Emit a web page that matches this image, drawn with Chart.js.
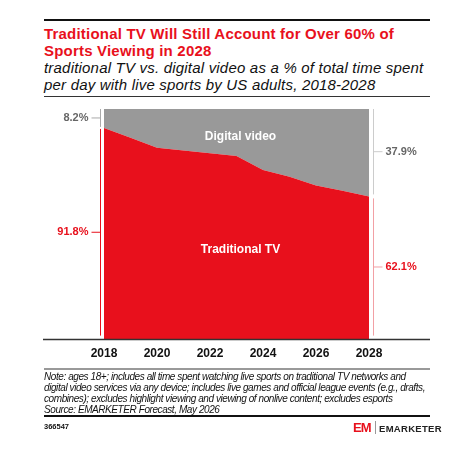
<!DOCTYPE html>
<html>
<head>
<meta charset="utf-8">
<script src="https://cdn.jsdelivr.net/npm/chart.js@4.4.1/dist/chart.umd.min.js"></script>
<style>
  body { margin: 0; width: 470px; height: 453px; background: #fff; position: relative; font-family: "Liberation Sans", Arial, sans-serif; overflow: hidden; }
  .abs { position: absolute; }
  #topRule { left: 44px; top: 19px; width: 386px; height: 2px; background: #111; }
  #title { left: 44px; top: 25px; width: 420px; color: #e8101c; font-weight: bold; font-size: 15px; line-height: 17px; letter-spacing: 0.2px; }
  #subtitle { left: 44px; top: 60px; width: 420px; color: #111; font-style: italic; font-size: 15px; line-height: 16.5px; letter-spacing: 0.2px; }
  #headRule { left: 44px; top: 96px; width: 386px; height: 1px; background: #333; }
  #chartBox { left: 0; top: 100px; width: 470px; height: 272px; }
  #noteRule { left: 44px; top: 368px; width: 386px; height: 2px; background: #999; }
  #notes { left: 44px; top: 372px; width: 420px; color: #111; font-style: italic; font-size: 10px; line-height: 10.9px; letter-spacing: -0.42px; }
  #footRule { left: 44px; top: 415px; width: 386px; height: 2px; background: #111; }
  #chartId { left: 44px; top: 422px; font-size: 7.5px; font-weight: bold; color: #111; }
  #logoEM { left: 353px; top: 420px; font-size: 13px; font-weight: 900; color: #e8101c; letter-spacing: -1px; }
  #logoBar { left: 375px; top: 421px; width: 1px; height: 13px; background: #999; }
  #logoText { left: 379px; top: 423px; font-size: 9.5px; font-weight: bold; color: #222; letter-spacing: 0.3px; }
</style>
</head>
<body>
<div id="topRule" class="abs"></div>
<div id="title" class="abs">Traditional TV Will Still Account for Over 60% of<br>Sports Viewing in 2028</div>
<div id="subtitle" class="abs">traditional TV vs. digital video as a % of total time spent<br>per day with live sports by US adults, 2018-2028</div>
<div id="headRule" class="abs"></div>
<div id="chartBox" class="abs"><canvas id="myChart" width="470" height="272"></canvas></div>
<div id="noteRule" class="abs"></div>
<div id="notes" class="abs">Note: ages 18+; includes all time spent watching live sports on traditional TV networks and<br>digital video services via any device; includes live games and official league events (e.g., drafts,<br>combines); excludes highlight viewing and viewing of nonlive content; excludes esports<br>Source: EMARKETER Forecast, May 2026</div>
<div id="footRule" class="abs"></div>
<div id="chartId" class="abs">366547</div>
<div id="logoEM" class="abs">EM</div>
<div id="logoBar" class="abs"></div>
<div id="logoText" class="abs">EMARKETER</div>

<script>
const years = ["2018", "2019", "2020", "2021", "2022", "2023", "2024", "2025", "2026", "2027", "2028"];
const traditionalTV = [91.8, 87.5, 83.2, 82.0, 80.8, 79.6, 73.6, 70.6, 66.8, 64.6, 62.1];
const digitalVideo = [8.2, 12.5, 16.8, 18.0, 19.2, 20.4, 26.4, 29.4, 33.2, 35.4, 37.9];
const seriesNames = ["Traditional TV", "Digital video"];

const RED = "#e8101c";
const GREY = "#999999";

// brackets, end labels and in-area labels
const annotations = {
  id: "annotations",
  afterDraw(chart) {
    const ctx = chart.ctx;
    const area = chart.chartArea;
    const y = chart.scales.y;
    const last = years.length - 1;
    ctx.save();

    // full width baseline
    ctx.strokeStyle = "#333";
    ctx.lineWidth = 1.5;
    ctx.beginPath();
    ctx.moveTo(43, area.bottom);
    ctx.lineTo(430, area.bottom);
    ctx.stroke();

    function bracket(x, top, bottom, color, tickDir, label, labelColor) {
      ctx.strokeStyle = color;
      ctx.lineWidth = 1;
      ctx.beginPath();
      ctx.moveTo(x, top);
      ctx.lineTo(x, bottom);
      ctx.stroke();
      const mid = (top + bottom) / 2;
      ctx.beginPath();
      ctx.moveTo(x, mid);
      ctx.lineTo(x + tickDir * 9, mid);
      ctx.stroke();
      ctx.fillStyle = labelColor;
      ctx.font = "bold 11px 'Liberation Sans', Arial, sans-serif";
      ctx.textBaseline = "middle";
      ctx.textAlign = tickDir < 0 ? "right" : "left";
      ctx.fillText(label, x + tickDir * 12, mid);
    }

    const lx = area.left - 3.5;
    const rx = area.right + 4.5;
    const redTopL = y.getPixelForValue(traditionalTV[0]);
    const redTopR = y.getPixelForValue(traditionalTV[last]);
    bracket(lx, area.top, redTopL - 1, "#aaa", -1, digitalVideo[0].toFixed(1) + "%", "#666");
    bracket(lx, redTopL + 1, area.bottom - 4, RED, -1, traditionalTV[0].toFixed(1) + "%", RED);
    bracket(rx, area.top, redTopR - 2, "#ccc", 1, digitalVideo[last].toFixed(1) + "%", "#666");
    bracket(rx, redTopR + 2, area.bottom - 4, "#f2a0a5", 1, traditionalTV[last].toFixed(1) + "%", RED);

    // series labels inside areas
    const cx = (area.left + area.right) / 2 + 4;
    ctx.fillStyle = "#fff";
    ctx.textAlign = "center";
    ctx.textBaseline = "middle";
    ctx.font = "bold 12px 'Liberation Sans', Arial, sans-serif";
    ctx.fillText(seriesNames[1], cx, y.getPixelForValue(88));
    ctx.fillText(seriesNames[0], cx, y.getPixelForValue(39));
    ctx.restore();
  }
};

const ctx = document.getElementById("myChart");
new Chart(ctx, {
  type: "line",
  data: {
    labels: years,
    datasets: [
      {
        label: seriesNames[0],
        data: traditionalTV,
        backgroundColor: RED,
        borderWidth: 0,
        pointRadius: 0,
        fill: "origin",
        tension: 0,
      },
      {
        label: seriesNames[1],
        data: digitalVideo,
        backgroundColor: GREY,
        borderWidth: 0,
        pointRadius: 0,
        fill: "-1",
        tension: 0,
      },
    ],
  },
  options: {
    responsive: false,
    animation: false,
    devicePixelRatio: 1,
    layout: { padding: { left: 104, right: 101, top: 9, bottom: 4 } },
    plugins: {
      legend: { display: false },
      tooltip: { enabled: false },
    },
    scales: {
      x: {
        offset: false,
        grid: { display: false, drawTicks: false },
        border: { display: false },
        ticks: {
          autoSkip: false,
          maxRotation: 0,
          padding: 7,
          color: "#111",
          font: { family: "'Liberation Sans', Arial, sans-serif", size: 12, weight: "bold" },
          callback: function (val, i) {
            return i % 2 === 0 ? years[i] : "";
          },
        },
      },
      y: {
        stacked: true,
        min: 0,
        max: 100,
        display: false,
      },
    },
  },
  plugins: [annotations],
});
</script>
</body>
</html>
